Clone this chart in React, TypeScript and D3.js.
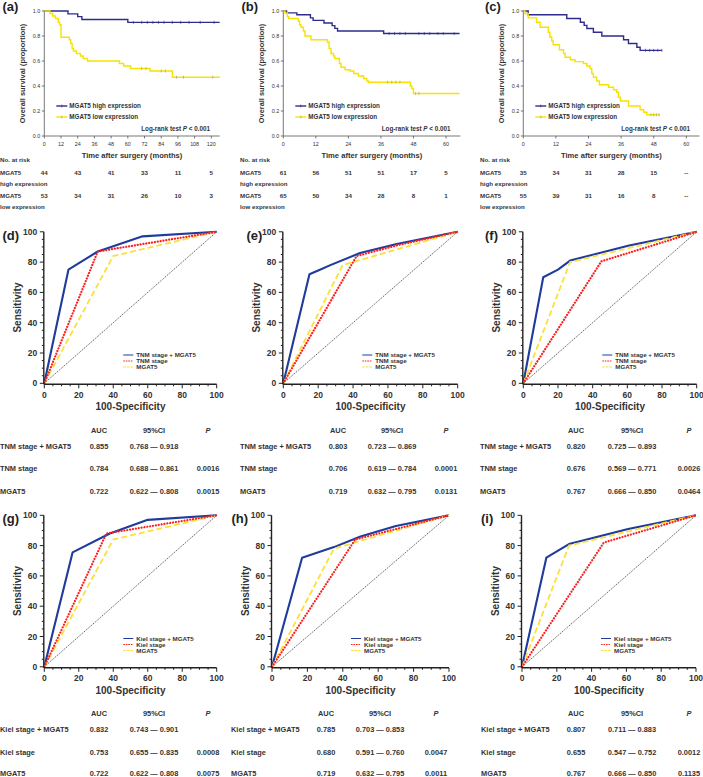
import React from "react";
import * as d3 from "d3";

type Pt = [number, number];

// ---------------- Kaplan–Meier data ----------------
const kmTicksA = [0, 12, 24, 36, 48, 60, 72, 84, 96, 108, 120];
const kmTicksBC = [0, 12, 24, 36, 48, 60];
const kmYTicks = [0, 0.2, 0.4, 0.6, 0.8, 1.0];

const kmHighA: Pt[] = [[0, 1], [17, 0.977], [24, 0.955], [27, 0.932], [60, 0.909]];
const kmHighAEnd = 126;
const kmHighACens = [64, 70, 74, 78, 82, 86, 92, 98, 104, 112, 122];
const kmLowA: Pt[] = [[0, 1], [4, 0.98], [6, 0.96], [8, 0.94], [10, 0.91], [11, 0.89], [12, 0.79], [18, 0.77], [19, 0.74], [20, 0.7], [21, 0.68], [23, 0.66], [26, 0.64], [28, 0.62], [31, 0.6], [54, 0.58], [57, 0.56], [62, 0.54], [76, 0.52], [92, 0.47]];
const kmLowAEnd = 126;
const kmLowACens = [70, 73, 84, 87, 95, 100, 121];

const kmHighB: Pt[] = [[0, 1], [1.2, 0.985], [5, 0.97], [10, 0.945], [11, 0.925], [15, 0.904], [18, 0.883], [19, 0.861], [20, 0.84], [37, 0.82]];
const kmHighBEnd = 65;
const kmHighBCens = [39, 41, 43, 45, 50, 52, 54, 57, 59, 63];
const kmLowB: Pt[] = [[0, 1], [0.6, 0.985], [1.5, 0.955], [2, 0.94], [5.5, 0.92], [6, 0.89], [6.5, 0.87], [7.4, 0.84], [8, 0.8], [10.2, 0.77], [16.3, 0.75], [16.9, 0.7], [17.6, 0.66], [18.5, 0.64], [19, 0.62], [20.7, 0.58], [21.3, 0.55], [22.8, 0.53], [24.6, 0.52], [26, 0.5], [27.7, 0.48], [29.6, 0.46], [30.8, 0.44], [31.4, 0.43], [46.8, 0.4], [47.4, 0.38], [48, 0.34]];
const kmLowBEnd = 65;
const kmLowBCens = [38.5, 40, 41.5, 43, 48.8, 50];

const kmHighC: Pt[] = [[0, 1], [1.8, 0.97], [16, 0.94], [21, 0.91], [22.4, 0.885], [23.4, 0.86], [25.8, 0.83], [28.9, 0.8], [36.9, 0.77], [38.7, 0.74], [41.8, 0.71], [43, 0.685]];
const kmHighCEnd = 51;
const kmHighCCens = [45, 46.5, 48, 49.5, 51];
const kmLowC: Pt[] = [[0, 1], [0.6, 0.98], [1.8, 0.945], [4.9, 0.91], [6.2, 0.87], [9.2, 0.83], [9.8, 0.79], [10.5, 0.76], [11, 0.73], [13.3, 0.69], [14.8, 0.66], [15.4, 0.63], [17.3, 0.61], [19, 0.595], [22.1, 0.58], [23.4, 0.56], [24.6, 0.54], [25.2, 0.5], [25.8, 0.47], [27, 0.44], [28, 0.41], [31.4, 0.39], [33.2, 0.37], [34.4, 0.35], [35, 0.31], [35.7, 0.28], [38.7, 0.24], [43, 0.21], [44.3, 0.19], [45.5, 0.17]];
const kmLowCEnd = 50.2;
const kmLowCCens = [47, 48, 49, 50];

const riskTimesA = [0, 24, 48, 72, 96, 120];
const riskTimesBC = [0, 12, 24, 36, 48, 60];
const riskHighA = ["44", "43", "41", "33", "11", "5"];
const riskLowA = ["53", "34", "31", "26", "10", "3"];
const riskHighB = ["61", "56", "51", "51", "17", "5"];
const riskLowB = ["65", "50", "34", "28", "8", "1"];
const riskHighC = ["35", "34", "31", "28", "15", "--"];
const riskLowC = ["55", "39", "31", "16", "8", "--"];

const kmLegend = ["MGAT5 high expression", "MGAT5 low expression"];

// ---------------- ROC data ----------------
const rocTicks = [0, 20, 40, 60, 80, 100];
const rocMinor = d3.range(0, 101, 5);

const rocBlueD: Pt[] = [[0, 0], [14, 75], [31, 87], [57, 97], [100, 100]];
const rocRedD: Pt[] = [[0, 0], [31, 87], [100, 100]];
const rocYellowD: Pt[] = [[0, 0], [40, 84], [100, 100]];
const rocBlueE: Pt[] = [[0, 0], [15, 72], [21, 75], [27, 78], [44, 86], [65, 92], [100, 100]];
const rocRedE: Pt[] = [[0, 0], [42, 84], [65, 91], [100, 100]];
const rocYellowE: Pt[] = [[0, 0], [34, 78], [100, 100]];
const rocBlueF: Pt[] = [[0, 0], [11.5, 70], [20, 75], [27, 81], [61, 91], [100, 100]];
const rocRedF: Pt[] = [[0, 0], [45, 80.5], [100, 100]];
const rocYellowF: Pt[] = [[0, 0], [27, 80], [100, 100]];
const rocBlueG: Pt[] = [[0, 0], [16.4, 75.5], [38, 88], [60, 97], [100, 100]];
const rocRedG: Pt[] = [[0, 0], [36, 88], [100, 100]];
const rocYellowG: Pt[] = [[0, 0], [40, 84], [100, 100]];
const rocBlueH: Pt[] = [[0, 0], [17, 72], [35, 79], [50, 86], [70, 93], [100, 100]];
const rocRedH: Pt[] = [[0, 0], [47, 84], [100, 100]];
const rocYellowH: Pt[] = [[0, 0], [35, 78], [100, 100]];
const rocBlueI: Pt[] = [[0, 0], [14, 72], [27, 81], [61, 91], [100, 100]];
const rocRedI: Pt[] = [[0, 0], [47, 82], [100, 100]];
const rocYellowI: Pt[] = [[0, 0], [27, 80], [100, 100]];

const rocLabelsTNM = ["TNM stage + MGAT5", "TNM stage", "MGAT5"];
const rocLabelsKiel = ["Kiel stage + MGAT5", "Kiel stage", "MGAT5"];

const aucD = ["0.855", "0.784", "0.722"];
const ciD = ["0.768 \u2014 0.918", "0.688 \u2014 0.861", "0.622 \u2014 0.808"];
const pD = ["", "0.0016", "0.0015"];
const aucE = ["0.803", "0.706", "0.719"];
const ciE = ["0.723 \u2014 0.869", "0.619 \u2014 0.784", "0.632 \u2014 0.795"];
const pE = ["", "0.0001", "0.0131"];
const aucF = ["0.820", "0.676", "0.767"];
const ciF = ["0.725 \u2014 0.893", "0.569 \u2014 0.771", "0.666 \u2014 0.850"];
const pF = ["", "0.0026", "0.0464"];
const aucG = ["0.832", "0.753", "0.722"];
const ciG = ["0.743 \u2014 0.901", "0.655 \u2014 0.835", "0.622 \u2014 0.808"];
const pG = ["", "0.0008", "0.0075"];
const aucH = ["0.785", "0.680", "0.719"];
const ciH = ["0.703 \u2014 0.853", "0.591 \u2014 0.760", "0.632 \u2014 0.795"];
const pH = ["", "0.0047", "0.0011"];
const aucI = ["0.807", "0.655", "0.767"];
const ciI = ["0.711 \u2014 0.883", "0.547 \u2014 0.752", "0.666 \u2014 0.850"];
const pI = ["", "0.0012", "0.1135"];

// ---------------- styling ----------------
const FONT = "'Liberation Sans', Arial, Helvetica, sans-serif";
const TXT = "#333";
const KM_BLUE = "#2e2c8c";
const KM_YELLOW = "#f7e200";
const ROC_BLUE = "#1f3c9c";
const ROC_RED = "#ff1e1e";
const ROC_YELLOW = "#fbe03a";

function KMPanel(p: any) {
  const x = d3.scaleLinear().domain([0, p.xMax]).range([p.x0, p.x0 + p.xMax * p.ppm]);
  const y = d3.scaleLinear().domain([0, 1]).range([136, 11]);
  const line = d3.line<Pt>().x((d) => x(d[0])).y((d) => y(d[1])).curve(d3.curveStepAfter);
  const valAt = (data: Pt[], t: number) => {
    let v = 1;
    for (const [tt, s] of data) if (tt <= t) v = s;
    return v;
  };
  const withEnd = (data: Pt[], end: number): Pt[] => [...data, [end, data[data.length - 1][1]]];
  const mid = (p.x0 + x(p.xMax)) / 2;
  return (
    <g fontFamily={FONT} fill={TXT}>
      <text x={p.labelX} y={11} fontSize={13} fontWeight="bold" fill="#222">{p.label}</text>
      {/* axes */}
      <line x1={p.x0} x2={x(p.xMax)} y1={y(0)} y2={y(0)} stroke="#555" strokeWidth={0.8} />
      <line x1={p.x0} x2={p.x0} y1={y(0)} y2={y(1) - 1} stroke="#555" strokeWidth={0.8} />
      {kmYTicks.map((t) => (
        <g key={"y" + t}>
          <line x1={p.x0 - 2.5} x2={p.x0} y1={y(t)} y2={y(t)} stroke="#555" strokeWidth={0.8} />
          <text x={p.x0 - 4} y={y(t) + 2} fontSize={5.4} textAnchor="end">{t.toFixed(1)}</text>
        </g>
      ))}
      {p.ticks.map((t: number) => (
        <g key={"x" + t}>
          <line x1={x(t)} x2={x(t)} y1={y(0)} y2={y(0) + 2.5} stroke="#555" strokeWidth={0.8} />
          <text x={x(t)} y={146} fontSize={5.4} textAnchor="middle">{t}</text>
        </g>
      ))}
      <text x={mid} y={157.5} fontSize={7.6} fontWeight="bold" textAnchor="middle">Time after surgery (months)</text>
      <text transform={`translate(${p.x0 - 19.5},${(y(0) + y(1)) / 2}) rotate(-90)`} fontSize={7.4} fontWeight="bold" textAnchor="middle">Overall survival (proportion)</text>
      {/* curves */}
      <path d={line(withEnd(p.high, p.highEnd)) || ""} fill="none" stroke={KM_BLUE} strokeWidth={1.4} />
      <path d={line(withEnd(p.low, p.lowEnd)) || ""} fill="none" stroke={KM_YELLOW} strokeWidth={1.4} />
      {p.highCens.map((t: number, i: number) => (
        <line key={"hc" + i} x1={x(t)} x2={x(t)} y1={y(valAt(p.high, t)) - 1.6} y2={y(valAt(p.high, t)) + 1.6} stroke={KM_BLUE} strokeWidth={0.6} />
      ))}
      {p.lowCens.map((t: number, i: number) => (
        <line key={"lc" + i} x1={x(t)} x2={x(t)} y1={y(valAt(p.low, t)) - 1.6} y2={y(valAt(p.low, t)) + 1.6} stroke="#999" strokeWidth={0.6} />
      ))}
      {/* legend */}
      <line x1={p.x0 + 12} x2={p.x0 + 23} y1={106} y2={106} stroke={KM_BLUE} strokeWidth={1.4} />
      <line x1={p.x0 + 17.5} x2={p.x0 + 17.5} y1={104.5} y2={107.5} stroke={KM_BLUE} strokeWidth={0.6} />
      <text x={p.x0 + 25} y={108.2} fontSize={6.3} fontWeight="bold">{kmLegend[0]}</text>
      <line x1={p.x0 + 12} x2={p.x0 + 23} y1={117} y2={117} stroke={KM_YELLOW} strokeWidth={1.4} />
      <line x1={p.x0 + 17.5} x2={p.x0 + 17.5} y1={115.5} y2={118.5} stroke="#999" strokeWidth={0.6} />
      <text x={p.x0 + 25} y={119.2} fontSize={6.3} fontWeight="bold">{kmLegend[1]}</text>
      <text x={p.logX} y={131} fontSize={6.3} fontWeight="bold" textAnchor="end">
        Log-rank test <tspan fontStyle="italic">P</tspan> {"< 0.001"}
      </text>
      {/* risk table */}
      <g fontSize={6.2} fontWeight="bold">
        <text x={p.tableX} y={162}>No. at risk</text>
        <text x={p.tableX} y={175}>MGAT5</text>
        <text x={p.tableX} y={185.5}>high expression</text>
        <text x={p.tableX} y={197.8}>MGAT5</text>
        <text x={p.tableX} y={208.8}>low expression</text>
        {p.riskTimes.map((t: number, i: number) => (
          <g key={"r" + i}>
            <text x={x(t)} y={175} textAnchor="middle">{p.riskHigh[i]}</text>
            <text x={x(t)} y={197.8} textAnchor="middle">{p.riskLow[i]}</text>
          </g>
        ))}
      </g>
    </g>
  );
}

function ROCPanel(p: any) {
  const x = d3.scaleLinear().domain([0, 100]).range([p.x0, p.x100]);
  const y = d3.scaleLinear().domain([0, 100]).range([p.y0, p.y0 - 151.5]);
  const line = d3.line<Pt>().x((d) => x(d[0])).y((d) => y(d[1]));
  const rowY = [p.y0 + 65.5, p.y0 + 88, Math.min(p.y0 + 110.5, 775.6)];
  const lgX = p.x0 + 79;
  return (
    <g fontFamily={FONT} fill={TXT}>
      <text x={p.labelX} y={p.y0 - 143.5} fontSize={13} fontWeight="bold" fill="#222">{p.label}</text>
      {/* diagonal */}
      <path d={line([[0, 0], [100, 100]]) || ""} stroke="#222" strokeWidth={0.7} strokeDasharray="1.4 1" fill="none" />
      <path d={line(p.blue) || ""} stroke={ROC_BLUE} strokeWidth={2.1} fill="none" strokeLinejoin="round" />
      <path d={line(p.yellow) || ""} stroke={ROC_YELLOW} strokeWidth={1.8} strokeDasharray="6 3" fill="none" />
      <path d={line(p.red) || ""} stroke={ROC_RED} strokeWidth={2.2} strokeDasharray="0.1 2.8" strokeLinecap="round" fill="none" />
      {/* axes */}
      <line x1={p.x0} x2={p.x100} y1={p.y0 + 1} y2={p.y0 + 1} stroke="#222" strokeWidth={1.4} />
      <line x1={p.x0 - 0.5} x2={p.x0 - 0.5} y1={p.y0 + 1} y2={y(100)} stroke="#222" strokeWidth={1.4} />
      {rocMinor.map((t) => (
        <g key={"m" + t}>
          <line x1={x(t)} x2={x(t)} y1={p.y0 + 1} y2={p.y0 + (t % 20 === 0 ? 5 : 3)} stroke="#222" strokeWidth={1} />
          <line x1={p.x0 - 0.5} x2={p.x0 - (t % 20 === 0 ? 4.5 : 2.5)} y1={y(t)} y2={y(t)} stroke="#222" strokeWidth={1} />
        </g>
      ))}
      {rocTicks.map((t) => (
        <g key={"t" + t} fontSize={8.5} fontWeight="bold">
          <text x={x(t)} y={p.y0 + 14.5} textAnchor="middle">{t}</text>
          <text x={p.x0 - 7} y={y(t) + 3} textAnchor="end">{t}</text>
        </g>
      ))}
      <text x={(p.x0 + p.x100) / 2} y={p.y0 + 27} fontSize={10} fontWeight="bold" textAnchor="middle">100-Specificity</text>
      <text transform={`translate(${p.x0 - 23},${p.y0 - 75.75}) rotate(-90)`} fontSize={10} fontWeight="bold" textAnchor="middle">Sensitivity</text>
      {/* legend */}
      <line x1={lgX} x2={lgX + 10} y1={p.y0 - 28.3} y2={p.y0 - 28.3} stroke={ROC_BLUE} strokeWidth={1} />
      <line x1={lgX} x2={lgX + 10} y1={p.y0 - 22.3} y2={p.y0 - 22.3} stroke={ROC_RED} strokeWidth={1.1} strokeDasharray="1.6 0.9" />
      <line x1={lgX} x2={lgX + 10} y1={p.y0 - 16.3} y2={p.y0 - 16.3} stroke={ROC_YELLOW} strokeWidth={1} strokeDasharray="2.5 1" />
      {p.names.map((n: string, i: number) => (
        <text key={"lg" + i} x={lgX + 13} y={p.y0 - 26.3 + i * 6} fontSize={6.2} fontWeight="bold">{n}</text>
      ))}
      {/* table */}
      <g fontSize={7.4} fontWeight="bold">
        <text x={p.aucX} y={p.y0 + 49.5} textAnchor="middle">AUC</text>
        <text x={p.ciX} y={p.y0 + 49.5} textAnchor="middle">95%CI</text>
        <text x={p.pX} y={p.y0 + 49.5} textAnchor="middle" fontStyle="italic">P</text>
        {p.names.map((n: string, i: number) => (
          <g key={"row" + i}>
            <text x={p.tableX} y={rowY[i]}>{n}</text>
            <text x={p.aucX} y={rowY[i]} textAnchor="middle">{p.auc[i]}</text>
            <text x={p.ciX} y={rowY[i]} textAnchor="middle">{p.ci[i]}</text>
            <text x={p.pX} y={rowY[i]} textAnchor="middle">{p.p[i]}</text>
          </g>
        ))}
      </g>
    </g>
  );
}

export default function App() {
  const top = 383.3;
  const bot = 666.8;
  return (
    <svg width={703} height={777} style={{ position: "absolute", left: 0, top: 0, background: "#fff" }}>
      <rect x={0} y={0} width={703} height={777} fill="#fff" />
      <KMPanel label="(a)" labelX={2.5} x0={44.3} ppm={1.392} xMax={126} ticks={kmTicksA}
        high={kmHighA} highEnd={kmHighAEnd} highCens={kmHighACens}
        low={kmLowA} lowEnd={kmLowAEnd} lowCens={kmLowACens}
        logX={210} tableX={0} riskTimes={riskTimesA} riskHigh={riskHighA} riskLow={riskLowA} />
      <KMPanel label="(b)" labelX={241.5} x0={283.3} ppm={2.712} xMax={65.3} ticks={kmTicksBC}
        high={kmHighB} highEnd={kmHighBEnd} highCens={kmHighBCens}
        low={kmLowB} lowEnd={kmLowBEnd} lowCens={kmLowBCens}
        logX={450.5} tableX={240} riskTimes={riskTimesBC} riskHigh={riskHighB} riskLow={riskLowB} />
      <KMPanel label="(c)" labelX={485} x0={523.3} ppm={2.717} xMax={64.8} ticks={kmTicksBC}
        high={kmHighC} highEnd={kmHighCEnd} highCens={kmHighCCens}
        low={kmLowC} lowEnd={kmLowCEnd} lowCens={kmLowCCens}
        logX={690} tableX={480} riskTimes={riskTimesBC} riskHigh={riskHighC} riskLow={riskLowC} />

      <ROCPanel label="(d)" labelX={2.5} x0={44.3} x100={216.7} y0={top}
        blue={rocBlueD} red={rocRedD} yellow={rocYellowD} names={rocLabelsTNM}
        auc={aucD} ci={ciD} p={pD} tableX={0} aucX={99} ciX={154} pX={208} />
      <ROCPanel label="(e)" labelX={246.5} x0={283.3} x100={457.7} y0={top}
        blue={rocBlueE} red={rocRedE} yellow={rocYellowE} names={rocLabelsTNM}
        auc={aucE} ci={ciE} p={pE} tableX={240} aucX={338} ciX={392} pX={446} />
      <ROCPanel label="(f)" labelX={485} x0={523.3} x100={696.7} y0={top}
        blue={rocBlueF} red={rocRedF} yellow={rocYellowF} names={rocLabelsTNM}
        auc={aucF} ci={ciF} p={pF} tableX={480} aucX={576} ciX={632} pX={689} />

      <ROCPanel label="(g)" labelX={2.5} x0={44.3} x100={216.7} y0={bot}
        blue={rocBlueG} red={rocRedG} yellow={rocYellowG} names={rocLabelsKiel}
        auc={aucG} ci={ciG} p={pG} tableX={0} aucX={99} ciX={154} pX={208} />
      <ROCPanel label="(h)" labelX={231.5} x0={272} x100={449} y0={bot}
        blue={rocBlueH} red={rocRedH} yellow={rocYellowH} names={rocLabelsKiel}
        auc={aucH} ci={ciH} p={pH} tableX={231} aucX={326} ciX={380} pX={436} />
      <ROCPanel label="(i)" labelX={481} x0={522} x100={696} y0={bot}
        blue={rocBlueI} red={rocRedI} yellow={rocYellowI} names={rocLabelsKiel}
        auc={aucI} ci={ciI} p={pI} tableX={481} aucX={576} ciX={632} pX={689} />
    </svg>
  );
}
